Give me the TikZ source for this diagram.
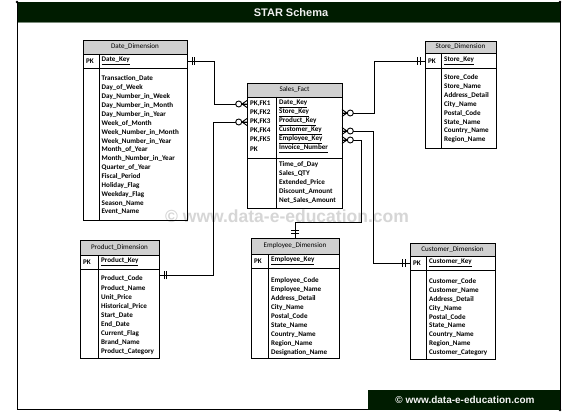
\documentclass[tikz,border=0pt]{standalone}
\usepackage{fontspec}
\setmainfont{Carlito}
\newfontfamily\arialf{Liberation Sans}
\definecolor{darkg}{HTML}{001C00}
\definecolor{hdrg}{HTML}{D0D0D0}
\definecolor{wmk}{HTML}{D6D6D6}
\definecolor{barline}{HTML}{7A8A7A}
\newcommand\erdbox[9]{%
  \draw[hdr] (#3,#5) rectangle (#4,#6);
  \node[hdrtxt] (#1-title) at ({(#3+#4)/2},{(#5+#6)/2}) {#2};
  \draw[tbl] (#3,#6) rectangle (#4,#8);
  \draw[tbl] (#3,#7) -- (#4,#7);
  \draw[tbl] (#9,#6) -- (#9,#8);
}
\newcommand\crowcircle[2]{%
  \begin{scope}[shift={(#1)}, rotate=#2]
    \draw[conn] (0,-3.5) -- (-5,0) -- (0,3.5) (0,0) -- (-5,0);
    \draw[conn, fill=white] (-8.3,0) circle (3pt);
  \end{scope}}
\newcommand\oneone[2]{%
  \begin{scope}[shift={(#1)}, rotate=#2]
    \draw[conn] (-5,-4) -- (-5,4) (-7.5,-4) -- (-7.5,4);
  \end{scope}}
\begin{document}
\begin{tikzpicture}[x=1pt,y=-1pt,
  tbl/.style={draw=black, line width=0.9pt},
  hdr/.style={fill=hdrg, draw=black, line width=0.9pt},
  rowtxt/.style={anchor=west, font=\fontsize{7.1}{8}\selectfont\bfseries, inner sep=0pt},
  hdrtxt/.style={font=\fontsize{7.1}{8}\selectfont, inner sep=0pt},
  conn/.style={draw=black, line width=0.9pt},
]
\useasboundingbox (0,0) rectangle (577,414);
\fill[white] (0,0) rectangle (577,414);

% frame and title bar
\fill[darkg] (17,2) rectangle (560,23);
\draw[barline, line width=1pt] (17,23) -- (560,23);
\draw[line width=1pt] (17,2) -- (17,409.5) -- (560,409.5) -- (560,2);
\fill (17,2) circle (1.3pt);
\fill (560,2) circle (1.3pt);
\fill (560,410) circle (1.3pt);
\node[font=\arialf\bfseries\fontsize{11}{13}\selectfont, text=white!88!gray] (title) at (291,12.5) {STAR Schema};

% watermark
\node[font=\arialf\bfseries\fontsize{17.5}{20}\selectfont, text=wmk] (wm) at (287,216) {© www.data-e-education.com};

% footer
\fill[darkg] (368,390) rectangle (560,409.5);
\node[font=\arialf\bfseries\fontsize{10}{12}\selectfont, text=white!92!gray] (foot) at (465,400) {© www.data-e-education.com};

% Date_Dimension
\erdbox{date}{Date\_Dimension}{83}{187}{40}{54}{68}{220}{99}
\node[rowtxt] (date-pk) at (86,61) {PK};
\node[rowtxt] (date-key) at (101.5,61) {\underline{Date\_Key}};
\foreach \t [count=\i from 0] in {Transaction\_Date, Day\_of\_Week, Day\_Number\_in\_Week, Day\_Number\_in\_Month, Day\_Number\_in\_Year, Week\_of\_Month, Week\_Number\_in\_Month, Week\_Number\_in\_Year, Month\_of\_Year, Month\_Number\_in\_Year, Quarter\_of\_Year, Fiscal\_Period, Holiday\_Flag, Weekday\_Flag, Season\_Name, Event\_Name}
  \node[rowtxt] (date-\i) at (101.5,{79+8.87*\i}) {\t};

% Sales_Fact
\erdbox{sf}{Sales\_Fact}{247}{342}{83}{97}{158}{208}{276}
\foreach \p/\k [count=\i from 0] in {PK{,}FK1/Date\_Key, PK{,}FK2/Store\_Key, PK{,}FK3/Product\_Key, PK{,}FK4/Customer\_Key, PK{,}FK5/Employee\_Key, PK/Invoice\_Number}{
  \node[rowtxt] (sf-p\i) at (250,{104+9*\i}) {\p};
  \node[rowtxt] (sf-k\i) at (279,{104+9*\i}) {\underline{\k}};
}
\foreach \t [count=\i from 0] in {Time\_of\_Day, Sales\_QTY, Extended\_Price, Discount\_Amount, Net\_Sales\_Amount}
  \node[rowtxt] (sf-\i) at (279,{165+9*\i}) {\t};

% Store_Dimension
\erdbox{st}{Store\_Dimension}{425}{496}{41}{53}{68}{148}{441}
\node[rowtxt] (st-pk) at (428,61) {PK};
\node[rowtxt] (st-key) at (444,61) {\underline{Store\_Key}};
\foreach \t [count=\i from 0] in {Store\_Code, Store\_Name, Address\_Detail, City\_Name, Postal\_Code, State\_Name, Country\_Name, Region\_Name}
  \node[rowtxt] (st-\i) at (444,{78+8.86*\i}) {\t};

% Product_Dimension
\erdbox{pr}{Product\_Dimension}{80}{159}{240}{255}{269}{358}{98}
\node[rowtxt] (pr-pk) at (83,262) {PK};
\node[rowtxt] (pr-key) at (101,262) {\underline{Product\_Key}};
\foreach \t [count=\i from 0] in {Product\_Code, Product\_Name, Unit\_Price, Historical\_Price, Start\_Date, End\_Date, Current\_Flag, Brand\_Name, Product\_Category}
  \node[rowtxt] (pr-\i) at (101,{279+9.1*\i}) {\t};

% Employee_Dimension
\erdbox{em}{Employee\_Dimension}{251}{339}{238}{254}{268}{358}{268}
\node[rowtxt] (em-pk) at (254,261) {PK};
\node[rowtxt] (em-key) at (271,261) {\underline{Employee\_Key}};
\foreach \t [count=\i from 0] in {Employee\_Code, Employee\_Name, Address\_Detail, City\_Name, Postal\_Code, State\_Name, Country\_Name, Region\_Name, Designation\_Name}
  \node[rowtxt] (em-\i) at (271,{281+8.9*\i}) {\t};

% Customer_Dimension
\erdbox{cu}{Customer\_Dimension}{410}{495}{243}{256}{270}{359}{426}
\node[rowtxt] (cu-pk) at (413,263) {PK};
\node[rowtxt] (cu-key) at (429,263) {\underline{Customer\_Key}};
\foreach \t [count=\i from 0] in {Customer\_Code, Customer\_Name, Address\_Detail, City\_Name, Postal\_Code, State\_Name, Country\_Name, Region\_Name, Customer\_Category}
  \node[rowtxt] (cu-\i) at (429,{282+8.8*\i}) {\t};

% connection points
\coordinate (dOut) at (187,61);
\coordinate (sfIn1) at (247,104);
\coordinate (sfIn3) at (247,122);
\coordinate (prIn) at (159,275);
\coordinate (sfOut2) at (342,113);
\coordinate (stIn) at (425,61);
\coordinate (sfOut4) at (342,131);
\coordinate (cuIn) at (410,263);
\coordinate (sfOut5) at (342,140);
\coordinate (emTurn) at (295,222);
\coordinate (emIn) at (295,238);

% connectors
\draw[conn] (dOut) -- ++(27,0) |- (sfIn1);
\draw[conn] (prIn) -- ++(54,0) |- (sfIn3);
\draw[conn] (sfOut2) -- ++(32,0) |- (stIn);
\draw[conn] (sfOut4) -- ++(31,0) |- (cuIn);
\draw[conn] (sfOut5) -- ++(19,0) |- (emTurn) -- (emIn);

% end markers
\oneone{dOut}{180}
\crowcircle{sfIn1}{0}
\crowcircle{sfIn3}{0}
\oneone{prIn}{180}
\crowcircle{sfOut2}{180}
\oneone{stIn}{0}
\crowcircle{sfOut4}{180}
\oneone{cuIn}{0}
\crowcircle{sfOut5}{180}
\oneone{emIn}{-90}
\end{tikzpicture}
\end{document}
